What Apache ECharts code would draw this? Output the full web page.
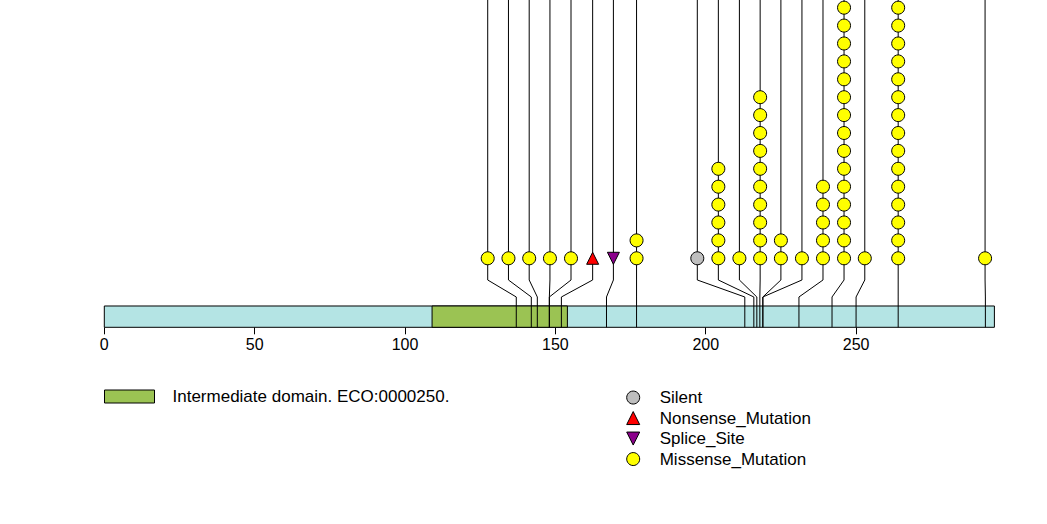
<!DOCTYPE html>
<html>
<head>
<meta charset="utf-8">
<script src="https://cdn.jsdelivr.net/npm/echarts@6/dist/echarts.min.js"></script>
<style>
html,body{margin:0;padding:0;background:#fff;}
#chart{width:1047px;height:524px;}
</style>
</head>
<body>
<div id="chart"></div>
<script>
// ---- data ----
const proteinLength = 296;
const domainName = 'Intermediate domain. ECO:0000250.';
const domainStart = 109;
const domainEnd = 154;
const xTicks = [0, 50, 100, 150, 200, 250];
// mutation positions on the protein (aa)
const positions = [137, 142, 144, 148, 148, 152, 167, 177, 213, 216, 217, 218, 219, 219, 231, 242, 250, 264, 293];
// label (spread) positions of the lollipops (aa units)
const labelPositions = [127.5, 134.4, 141.3, 148.2, 155.2, 162.4, 169.3, 177.0, 197.2, 204.2, 211.2, 218.1, 225.0, 232.0, 239.0, 246.0, 252.9, 264.0, 292.9];
// number of samples per mutation
const counts = [1, 1, 1, 1, 1, 1, 1, 2, 1, 6, 1, 10, 2, 1, 5, 15, 1, 15, 1];
const types = ['Missense_Mutation', 'Missense_Mutation', 'Missense_Mutation', 'Missense_Mutation', 'Missense_Mutation',
  'Nonsense_Mutation', 'Splice_Site', 'Missense_Mutation', 'Silent', 'Missense_Mutation', 'Missense_Mutation',
  'Missense_Mutation', 'Missense_Mutation', 'Missense_Mutation', 'Missense_Mutation', 'Missense_Mutation',
  'Missense_Mutation', 'Missense_Mutation', 'Missense_Mutation'];
const legendTypes = ['Silent', 'Nonsense_Mutation', 'Splice_Site', 'Missense_Mutation'];

// ---- styles ----
const DOWN_TRIANGLE = 'path://M0,0 L2,0 L1,2 Z';
const typeStyle = {
  Silent: { color: '#BEBEBE', symbol: 'circle', size: 13 },
  Nonsense_Mutation: { color: '#FF0000', symbol: 'triangle', size: 12 },
  Splice_Site: { color: '#8B008B', symbol: DOWN_TRIANGLE, size: 12 },
  Missense_Mutation: { color: '#FFFF00', symbol: 'circle', size: 13 }
};
// y layout (units of stacked symbols)
const Y_MAX = 14.43, Y_MIN = -3.855;
const BAR_TOP = -2.665, BAR_BOTTOM = Y_MIN;
const KINK_LOW = -2.162, KINK_HIGH = -1.212;

const chart = echarts.init(document.getElementById('chart'), null, { renderer: 'svg' });

const connectorData = positions.map((p, i) => [p, labelPositions[i]]);

const scatterSeries = legendTypes.map(t => {
  const data = [];
  types.forEach((ty, i) => {
    if (ty !== t) return;
    for (let k = 0; k < counts[i]; k++) data.push([labelPositions[i], k]);
  });
  const st = typeStyle[t];
  return {
    name: t, type: 'scatter', data: data, z: 5,
    symbol: st.symbol, symbolSize: st.size,
    itemStyle: { color: st.color, borderColor: '#000', borderWidth: 1, opacity: 1 },
    emphasis: { disabled: true }, animation: false
  };
});

const rectRender = (color) => function (params, api) {
  const a = api.coord([api.value(0), BAR_TOP]);
  const b = api.coord([api.value(1), BAR_BOTTOM]);
  return {
    type: 'rect',
    shape: { x: a[0], y: a[1], width: b[0] - a[0], height: b[1] - a[1] },
    style: { fill: color, stroke: '#000', lineWidth: 1 }
  };
};

const option = {
  backgroundColor: '#fff',
  animation: false,
  grid: { left: 104.3, top: 0, width: 890.1, height: 327.3, containLabel: false },
  xAxis: {
    type: 'value', min: 0, max: proteinLength,
    axisLine: { show: false, onZero: false },
    splitLine: { show: false },
    axisTick: { show: true, length: 7, lineStyle: { color: '#000', width: 1 }, customValues: xTicks },
    axisLabel: { color: '#000', fontSize: 16, fontFamily: 'Liberation Sans, Arial, sans-serif', margin: 9, customValues: xTicks }
  },
  yAxis: { type: 'value', min: Y_MIN, max: Y_MAX, show: false },
  legend: [
    {
      data: [{ name: domainName, icon: 'rect' }],
      left: 104, top: 388, orient: 'vertical', padding: 0,
      itemWidth: 50, itemHeight: 13,
      itemStyle: { borderColor: '#000', borderWidth: 1 },
      textStyle: { color: '#000', fontSize: 17, fontFamily: 'Liberation Sans, Arial, sans-serif', padding: [0, 0, 0, 13] },
      selectedMode: false
    },
    {
      data: legendTypes,
      left: 626.2, top: 387.3, orient: 'vertical', padding: 0, itemGap: 0,
      itemWidth: 13, itemHeight: 13,
      itemStyle: { borderColor: '#000', borderWidth: 1 },
      textStyle: { color: '#000', fontSize: 17, lineHeight: 20.5, fontFamily: 'Liberation Sans, Arial, sans-serif', padding: [0, 0, 0, 15] },
      selectedMode: false
    }
  ],
  series: [
    {
      name: 'protein', type: 'custom', z: 1, data: [[0, proteinLength]],
      renderItem: rectRender('#B4E4E4'), itemStyle: { color: '#B4E4E4' }, silent: true
    },
    {
      name: domainName, type: 'custom', z: 2, data: [[domainStart, domainEnd]],
      renderItem: rectRender('#9BC353'), itemStyle: { color: '#9BC353' }, silent: true
    },
    {
      name: 'connectors', type: 'custom', z: 3, data: connectorData, silent: true,
      renderItem: function (params, api) {
        const p = api.value(0), l = api.value(1);
        return {
          type: 'polyline',
          shape: { points: [
            api.coord([p, BAR_BOTTOM]), api.coord([p, KINK_LOW]),
            api.coord([l, KINK_HIGH]), api.coord([l, Y_MAX])
          ] },
          style: { stroke: '#000', lineWidth: 1, fill: null }
        };
      }
    }
  ].concat(scatterSeries)
};
chart.setOption(option);
</script>
</body>
</html>
